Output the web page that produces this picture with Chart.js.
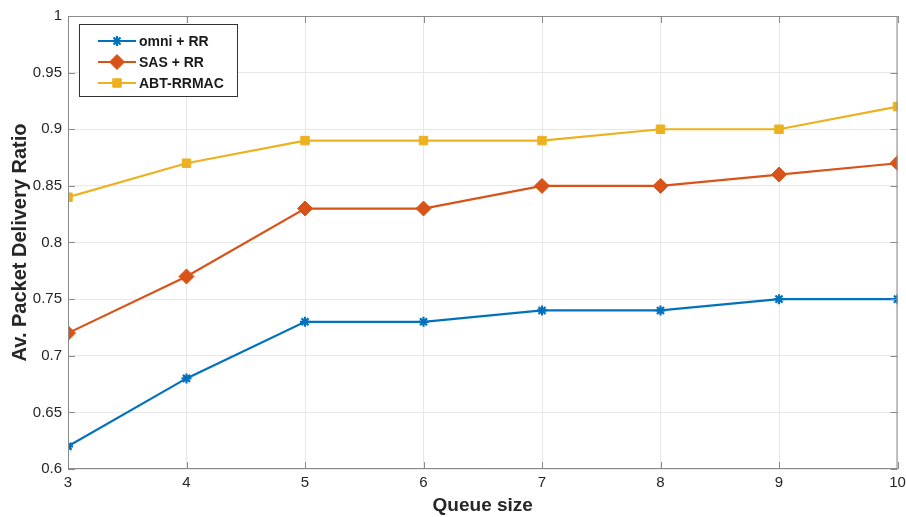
<!DOCTYPE html>
<html>
<head>
<meta charset="utf-8">
<script src="https://cdn.jsdelivr.net/npm/chart.js@4/dist/chart.umd.min.js"></script>
<style>
  html, body { margin: 0; padding: 0; background: #fff; }
  #wrap { width: 906px; height: 517px; }
</style>
</head>
<body>
<div id="wrap"><canvas id="pdr"></canvas></div>
<script>
const queueSizes = [3, 4, 5, 6, 7, 8, 9, 10];
const omniRR = [0.62, 0.68, 0.73, 0.73, 0.74, 0.74, 0.75, 0.75];
const sasRR = [0.72, 0.77, 0.83, 0.83, 0.85, 0.85, 0.86, 0.87];
const abtRRMAC = [0.84, 0.87, 0.89, 0.89, 0.89, 0.90, 0.90, 0.92];
const yTicks = [0.6, 0.65, 0.7, 0.75, 0.8, 0.85, 0.9, 0.95, 1];

const FONT = 'Arial, "Liberation Sans", sans-serif';
const AXIS_COLOR = '#8a8a8a';

function series(label, values, color, style, radius, bw) {
  return {
    label: label,
    data: queueSizes.map((x, i) => ({ x: x, y: values[i] })),
    borderColor: color,
    backgroundColor: color,
    borderWidth: 2.2,
    pointStyle: style,
    pointRadius: radius,
    pointBorderWidth: bw,
    pointBorderColor: color,
    pointBackgroundColor: color,
    tension: 0
  };
}

// axes box with inward ticks, plus the boxed legend in the upper left
const matlabBox = {
  id: 'matlabBox',
  afterDatasetsDraw(chart) {
    const { ctx, chartArea: a, scales } = chart;
    ctx.save();
    ctx.strokeStyle = AXIS_COLOR;
    ctx.lineWidth = 1;
    ctx.strokeRect(a.left + 0.5, a.top + 0.5, a.right - a.left - 1, a.bottom - a.top - 1);
    const t = 7;
    ctx.beginPath();
    queueSizes.forEach(v => {
      const x = Math.round(scales.x.getPixelForValue(v)) + 0.5;
      ctx.moveTo(x, a.bottom); ctx.lineTo(x, a.bottom - t);
      ctx.moveTo(x, a.top); ctx.lineTo(x, a.top + t);
    });
    yTicks.forEach(v => {
      const y = Math.round(scales.y.getPixelForValue(v)) + 0.5;
      ctx.moveTo(a.left, y); ctx.lineTo(a.left + t, y);
      ctx.moveTo(a.right, y); ctx.lineTo(a.right - t, y);
    });
    ctx.stroke();

    // legend
    const bx = 79.5, by = 24.5, bw = 158, bh = 72;
    ctx.fillStyle = '#fff';
    ctx.fillRect(bx, by, bw, bh);
    ctx.strokeStyle = '#333';
    ctx.strokeRect(bx, by, bw, bh);
    const rows = [41, 62, 83];
    chart.data.datasets.forEach((ds, i) => {
      const y = rows[i];
      ctx.strokeStyle = ds.borderColor;
      ctx.lineWidth = 2.2;
      ctx.beginPath();
      ctx.moveTo(98, y); ctx.lineTo(136, y);
      ctx.stroke();
      ctx.fillStyle = ds.borderColor;
      ctx.lineWidth = ds.pointBorderWidth;
      Chart.helpers.drawPoint(ctx, { pointStyle: ds.pointStyle, radius: ds.pointRadius, borderWidth: ds.pointBorderWidth }, 117, y);
      ctx.fillStyle = '#1a1a1a';
      ctx.font = 'bold 14px ' + FONT;
      ctx.textBaseline = 'middle';
      ctx.textAlign = 'left';
      ctx.fillText(ds.label, 139, y + 1);
    });
    ctx.restore();
  }
};

new Chart(document.getElementById('pdr'), {
  type: 'line',
  data: {
    datasets: [
      series('omni + RR', omniRR, '#0072BD', 'star', 5, 2.2),
      series('SAS + RR', sasRR, '#D95319', 'rectRot', 7.5, 1),
      series('ABT-RRMAC', abtRRMAC, '#EDB120', 'rect', 6, 1)
    ]
  },
  options: {
    responsive: true,
    maintainAspectRatio: false,
    animation: false,
    layout: { padding: { top: 16, right: 0, left: 0, bottom: 0 } },
    plugins: {
      legend: { display: false },
      tooltip: { enabled: false }
    },
    scales: {
      x: {
        type: 'linear',
        min: 3,
        max: 10,
        afterBuildTicks(scale) { scale.ticks = queueSizes.map(v => ({ value: v })); },
        afterFit(scale) {
          scale.height = 48;
          scale.paddingLeft = 0;
          scale.paddingRight = 8;
        },
        ticks: { color: '#262626', font: { family: FONT, size: 15 }, padding: 5 },
        grid: { color: '#e8e8e8', drawTicks: false },
        border: { display: false },
        title: {
          display: true,
          text: 'Queue size',
          color: '#262626',
          font: { family: FONT, size: 19, weight: 'bold' },
          padding: { top: 0, bottom: 0 }
        }
      },
      y: {
        min: 0.6,
        max: 1,
        afterBuildTicks(scale) { scale.ticks = yTicks.map(v => ({ value: v })); },
        afterFit(scale) { scale.width = 68; },
        ticks: {
          color: '#262626',
          font: { family: FONT, size: 15 },
          padding: 6,
          callback: v => String(Math.round(v * 100) / 100)
        },
        grid: { color: '#e8e8e8', drawTicks: false },
        border: { display: false },
        title: {
          display: true,
          text: 'Av. Packet Delivery Ratio',
          color: '#262626',
          font: { family: FONT, size: 20, weight: 'bold' },
          padding: { top: 8, bottom: 0 }
        }
      }
    }
  },
  plugins: [matlabBox]
});
</script>
</body>
</html>
